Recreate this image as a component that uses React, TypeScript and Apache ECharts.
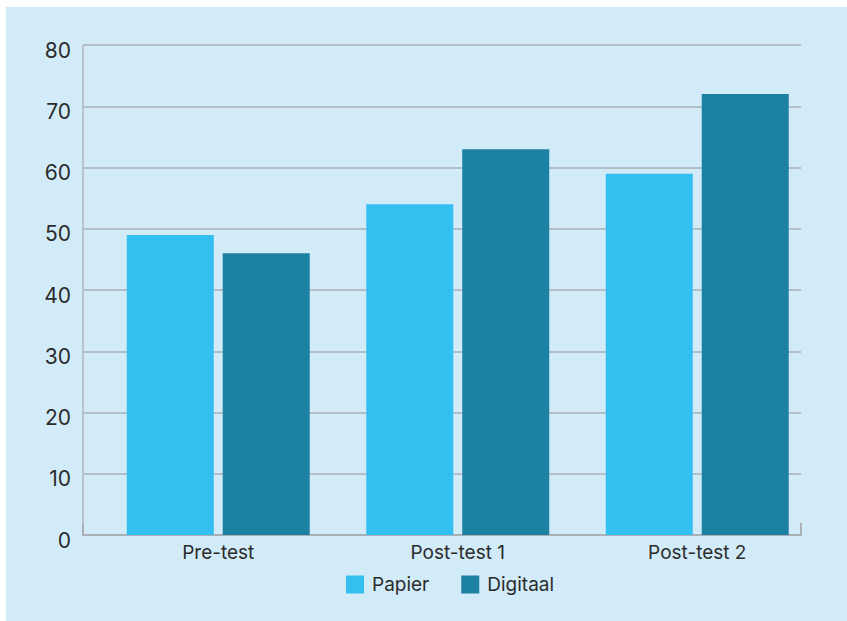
import React, { useEffect, useRef } from "react";
import * as echarts from "echarts";

const categories = ["Pre-test", "Post-test 1", "Post-test 2"];
const papier = [49, 54, 59];
const digitaal = [46, 63, 72];
const seriesNames = ["Papier", "Digitaal"];

const FONT = "Inter, 'Noto Sans', sans-serif";
const TEXT = "#2b2b2b";
const GRID = "#a9b1b7";

export default function App() {
  const ref = useRef<HTMLDivElement>(null);
  useEffect(() => {
    if (!ref.current) return;
    const chart = echarts.init(ref.current, null, { renderer: "svg" });
    chart.setOption({
      animation: false,
      backgroundColor: "transparent",
      textStyle: { fontFamily: FONT },
      color: ["#33bff0", "#1d81a4"],
      legend: {
        data: seriesNames,
        left: 346,
        top: 575,
        padding: 0,
        itemWidth: 18,
        itemHeight: 18,
        itemGap: 32,
        icon: "rect",
        textStyle: { fontFamily: FONT, fontSize: 19, color: TEXT, padding: [0, 0, 0, 3] },
      },
      grid: [
        { left: 83, top: 45, width: 718, height: 490 },
        { left: 98.5, top: 45, width: 718.5, height: 490 },
      ],
      xAxis: [
        {
          gridIndex: 0,
          type: "value",
          min: 0,
          max: 1,
          interval: 1,
          axisLine: { show: true, lineStyle: { color: "#aab0b5", width: 2 } },
          axisTick: { show: true, inside: true, length: 12, lineStyle: { color: "#aab0b5", width: 2 } },
          axisLabel: { show: false },
          splitLine: { show: false },
        },
        {
          gridIndex: 1,
          type: "category",
          data: categories,
          axisLine: { show: false },
          axisTick: { show: false },
          axisLabel: { fontFamily: FONT, fontSize: 19, color: TEXT, margin: 8 },
        },
      ],
      yAxis: [
        {
          gridIndex: 0,
          type: "value",
          min: 0,
          max: 80,
          interval: 10,
          axisLine: { show: true, lineStyle: { color: "#b0b6bb", width: 1.5 } },
          axisTick: { show: false },
          axisLabel: {
            fontFamily: FONT,
            fontSize: 21,
            color: TEXT,
            margin: 12,
            verticalAlign: "top",
            lineHeight: 10,
          },
          splitLine: { show: true, lineStyle: { color: GRID, width: 1.5 } },
        },
        {
          gridIndex: 1,
          type: "value",
          min: 0,
          max: 80,
          interval: 10,
          show: false,
          splitLine: { show: false },
        },
      ],
      series: [
        {
          name: seriesNames[0],
          type: "bar",
          xAxisIndex: 1,
          yAxisIndex: 1,
          data: papier,
          barWidth: 87,
          barGap: "10.3%",
        },
        {
          name: seriesNames[1],
          type: "bar",
          xAxisIndex: 1,
          yAxisIndex: 1,
          data: digitaal,
          barWidth: 87,
          barGap: "10.3%",
        },
      ],
    });
    return () => chart.dispose();
  }, []);

  return (
    <div style={{ position: "fixed", left: 0, top: 0, width: 847, height: 621, background: "#ffffff" }}>
      <div style={{ position: "absolute", left: 6, top: 7, right: 0, bottom: 0, background: "#d1ebf9" }} />
      <div ref={ref} style={{ position: "absolute", left: 0, top: 0, width: 847, height: 621 }} />
    </div>
  );
}
